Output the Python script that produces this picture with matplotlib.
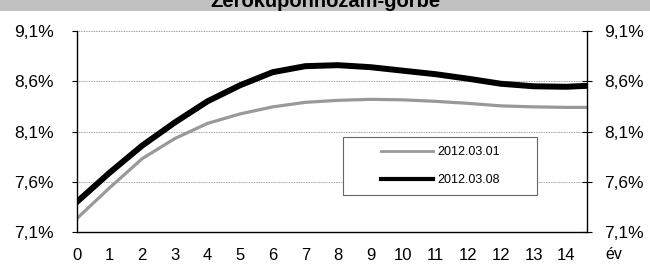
import matplotlib
matplotlib.use("Agg")
import matplotlib.pyplot as plt
from matplotlib.patches import Rectangle
from matplotlib.ticker import FuncFormatter

plt.rcParams['font.family'] = ['Liberation Sans', 'DejaVu Sans']

# Category labels (as printed under the x axis)
x_labels = ['0', '1', '2', '3', '4', '5', '6', '7', '8', '9', '10',
            '11', '12', '12', '13', '14']
# Curve values (%) read at each label position, plus one extra point past the end
y_0301 = [7.235, 7.54, 7.83, 8.03, 8.18, 8.275, 8.345, 8.39, 8.41, 8.42,
          8.415, 8.40, 8.38, 8.355, 8.345, 8.34, 8.34]
y_0308 = [7.40, 7.69, 7.96, 8.19, 8.40, 8.56, 8.69, 8.75, 8.76, 8.74,
          8.705, 8.67, 8.625, 8.575, 8.55, 8.545, 8.56]
series_names = ['2012.03.01', '2012.03.08']
y_ticks = [7.1, 7.6, 8.1, 8.6, 9.1]

W, H = 650, 264
fig = plt.figure(figsize=(W / 100, H / 100), dpi=100)
ax = fig.add_axes([77 / W, 1 - 232 / H, 510 / W, 201 / H])

xs = list(range(len(y_0301)))
l1, = ax.plot(xs, y_0301, color='#999999', lw=2.3, solid_joinstyle='round')
l2, = ax.plot(xs, y_0308, color='black', lw=4.3, solid_joinstyle='round')

ax.set_xlim(0, 15.64)
ax.set_ylim(7.1, 9.1)
ax.set_xticks(range(len(x_labels)))
ax.set_xticklabels(x_labels)
ax.set_yticks(y_ticks)
fmt = FuncFormatter(lambda v, p: f"{v:.1f}%".replace('.', ','))
ax.yaxis.set_major_formatter(fmt)
ax.tick_params(axis='x', length=0, pad=11.5, labelsize=12)
ax.tick_params(axis='y', direction='out', length=3.6, width=0.8, pad=13,
               labelsize=12.5)
ax.grid(axis='y', color='#808080', lw=0.6, ls=(0, (1, 1)))
ax.set_axisbelow(True)
for s in ['top', 'right']:
    ax.spines[s].set_visible(False)
ax.spines['left'].set_linewidth(1)
ax.spines['bottom'].set_linewidth(1)

ax2 = ax.twinx()
ax2.set_ylim(7.1, 9.1)
ax2.set_yticks(y_ticks)
ax2.yaxis.set_major_formatter(fmt)
ax2.tick_params(axis='y', direction='inout', length=7, width=0.8, pad=9,
                labelsize=12.5)
for s in ['top', 'left', 'bottom']:
    ax2.spines[s].set_visible(False)
ax2.spines['right'].set_linewidth(1)

# legend box
ax.add_patch(Rectangle((0.522, 0.184), 0.380, 0.289, transform=ax.transAxes,
                       facecolor='white', edgecolor='#666666', lw=0.8,
                       zorder=4))
leg = ax.legend([l1, l2], series_names, loc='center',
                bbox_to_anchor=(0.712, 0.328), frameon=False, fontsize=9,
                handlelength=4.2, handletextpad=0.3, labelspacing=1.25)
leg.set_zorder(5)
leg.get_lines()[0].set_linewidth(2)
leg.get_lines()[1].set_linewidth(3)

fig.text(614 / W, 1 - 259 / H, 'év', fontsize=11.5, ha='center',
         va='baseline')

# title band (cut off at the top)
fig.patches.append(Rectangle((0, 1 - 11 / H), 1, 11 / H,
                             transform=fig.transFigure, facecolor='#c0c0c0',
                             edgecolor='none', zorder=0))
fig.text(0.5, 1 - 7 / H, 'Zérókuponhozam-görbe', fontsize=14.5,
         fontweight='bold', ha='center', va='baseline')

fig.savefig('out.png', dpi=100)
